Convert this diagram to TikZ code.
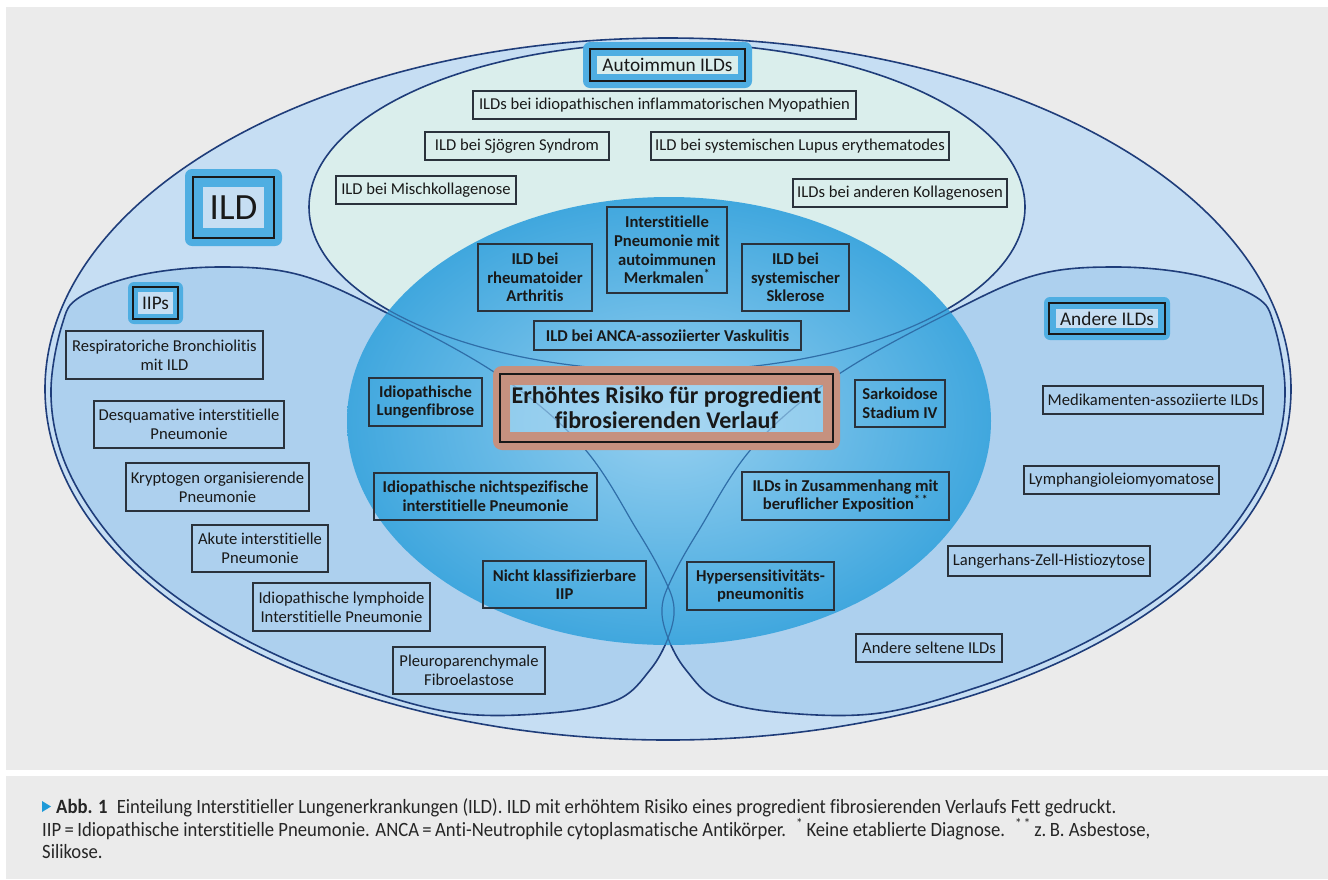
\documentclass[tikz,border=0pt]{standalone}
\usepackage{fontspec}
\setmainfont{Carlito}[Ligatures={NoCommon,NoContextual}]
\newfontfamily\capfont{Carlito}[FakeStretch=0.92, Ligatures={NoCommon,NoContextual}]
\usetikzlibrary{calc}

\definecolor{panelgray}{HTML}{EBEBEB}
\definecolor{ildfill}{HTML}{C6DEF3}
\definecolor{autofill}{HTML}{DAEEEC}
\definecolor{subfill}{HTML}{ADD0EE}
\definecolor{rimline}{HTML}{1F3D7A}
\definecolor{coreline}{HTML}{2F6EA8}
\definecolor{coreinner}{HTML}{97D0F0}
\definecolor{coreouter}{HTML}{40A7DE}
\definecolor{haloblue}{HTML}{4FAEE2}
\definecolor{halosalmon}{HTML}{C6917F}
\definecolor{boxline}{HTML}{2A323C}
\definecolor{capblue}{HTML}{1E9AD8}
\definecolor{riskfill}{HTML}{B8DEF4}

\tikzset{
  rim/.style={draw=rimline, line width=1.6pt},
  entry/.style={draw=boxline, line width=1.5pt, inner sep=0pt, align=center,
    text=black!90, font=\fontsize{16.6}{19}\selectfont},
  keyentry/.style={entry, font=\bfseries\fontsize{16.6}{18.6}\selectfont},
  title/.style={draw=black!90, line width=2.4pt, inner sep=0pt, text=black!90,
    font=\fontsize{19.3}{22}\selectfont},
  caption/.style={anchor=base west, inner sep=0pt, text=black!85,
    font=\capfont\fontsize{20.3}{22}\selectfont},
  iipshape/.pic={
    \path[pic actions] plot[smooth cycle, tension=0.6] coordinates {
      (220,267) (300,275) (385,312) (500,376) (583,447) (637,530) (664,578)
      (674,608) (668,638) (650,670) (617,700) (550,713) (456,713) (358,687)
      (270,652) (195,610) (133,561) (88,506) (60,449) (51,389) (62,325)
      (80,297) (140,275)};
  }
}

\begin{document}
\begin{tikzpicture}[x=1pt, y=-1pt]
\useasboundingbox (0,0) rectangle (1328,879);
\fill[white] (0,0) rectangle (1328,879);
% panels
\fill[panelgray] (6,7) rectangle (1328,770);
\fill[panelgray] (6,776) rectangle (1328,879);

% outer ILD field
\filldraw[fill=ildfill, rim] (668,389) ellipse [x radius=623pt, y radius=351pt];
% autoimmune field
\filldraw[fill=autofill, rim] (667,207) ellipse [x radius=358pt, y radius=164pt];
% IIP field and the mirrored field of other ILDs
\pic[fill=subfill, rim] at (0,0) {iipshape};
\pic[fill=subfill, rim, xscale=-1] at (1336,0) {iipshape};

% core: increased risk of progressive fibrosis
\shade[inner color=coreinner, outer color=coreouter]
  (669,421) ellipse [x radius=322pt, y radius=224pt];
\begin{scope}
  \clip (669,421) ellipse [x radius=322pt, y radius=224pt];
  \draw[coreline, line width=1.2pt] (667,207) ellipse [x radius=358pt, y radius=164pt];
  \pic[draw=coreline, line width=1.2pt] at (0,0) {iipshape};
  \pic[draw=coreline, line width=1.2pt, xscale=-1] at (1336,0) {iipshape};
\end{scope}

% headline labels with halo
\fill[haloblue, rounded corners=7pt] (185,169) rectangle (282,246);
\fill[ildfill] (203,187) rectangle (264,228);
\node[title, minimum width=81, minimum height=61, font=\fontsize{37}{40}\selectfont]
  (ild) at (233.5,207.5) {ILD};

\fill[haloblue, rounded corners=7pt] (583,42) rectangle (752,88);
\fill[autofill] (597,56) rectangle (738,74);
\node[title, minimum width=155, minimum height=32] (auto) at (667.5,65) {Autoimmun ILDs};

\fill[haloblue, rounded corners=6pt] (128,282) rectangle (183,324);
\fill[subfill!70!white] (138,292) rectangle (173,314);
\node[title, minimum width=45, minimum height=32] (iips) at (155.5,303) {IIPs};

\fill[haloblue, rounded corners=6pt] (1044,297) rectangle (1170,340);
\fill[subfill!70!white] (1056,309) rectangle (1158,328);
\node[title, minimum width=116, minimum height=31] (andere) at (1107,318.5) {Andere ILDs};

\fill[halosalmon, even odd rule] [rounded corners=9pt] (493,366) rectangle (840,450)
  [sharp corners] (510,385) rectangle (823,432);
\fill[riskfill, fill opacity=0.5] (510,385) rectangle (823,432);
\node[title, minimum width=333, minimum height=68, align=center,
  font=\bfseries\fontsize{24}{25}\selectfont] (risk) at (666.5,408)
  {Erhöhtes Risiko für progredient\\fibrosierenden Verlauf};

% autoimmune entries
\node[entry, minimum width=383, minimum height=28] (a1) at (664.5,105)
  {ILDs bei idiopathischen inflammatorischen Myopathien};
\node[entry, minimum width=184, minimum height=28] (a2) at (517,146) {ILD bei Sjögren Syndrom};
\node[entry, minimum width=298, minimum height=28] (a3) at (800,146)
  {ILD bei systemischen Lupus erythematodes};
\node[entry, minimum width=180, minimum height=28] (a4) at (426,190) {ILD bei Mischkollagenose};
\node[entry, minimum width=214, minimum height=28] (a5) at (900,193) {ILDs bei anderen Kollagenosen};

% entries with increased risk
\node[keyentry, minimum width=114, minimum height=67] (b1) at (535,277.5)
  {ILD bei\\rheumatoider\\Arthritis};
\node[keyentry, minimum width=120, minimum height=86] (b2) at (667,250)
  {Interstitielle\\Pneumonie mit\\autoimmunen\\Merkmalen\textsuperscript{*}};
\node[keyentry, minimum width=107, minimum height=67] (b3) at (795.5,277.5)
  {ILD bei\\systemischer\\Sklerose};
\node[keyentry, minimum width=267, minimum height=29] (b4) at (667.5,335.5)
  {ILD bei ANCA-assoziierter Vaskulitis};
\node[keyentry, minimum width=113, minimum height=48] (b5) at (425.5,402)
  {Idiopathische\\Lungenfibrose};
\node[keyentry, minimum width=223, minimum height=47] (b6) at (485.5,496.5)
  {Idiopathische nichtspezifische\\interstitielle Pneumonie};
\node[keyentry, minimum width=163, minimum height=47] (b7) at (564.5,584.5)
  {Nicht klassifizierbare\\IIP};
\node[keyentry, minimum width=90, minimum height=47] (b8) at (900,403.5)
  {Sarkoidose\\Stadium IV};
\node[keyentry, minimum width=207, minimum height=48] (b9) at (845.5,496)
  {ILDs in Zusammenhang mit\\beruflicher Exposition\textsuperscript{*\,*}};
\node[keyentry, minimum width=147, minimum height=48] (b10) at (760.5,586)
  {Hypersensitivitäts-\\pneumonitis};

% idiopathic interstitial pneumonias
\node[entry, minimum width=197, minimum height=48] (c1) at (164.5,355)
  {Respiratoriche Bronchiolitis\\mit ILD};
\node[entry, minimum width=190, minimum height=47] (c2) at (189,424.5)
  {Desquamative interstitielle\\Pneumonie};
\node[entry, minimum width=183, minimum height=48] (c3) at (217.5,487)
  {Kryptogen organisierende\\Pneumonie};
\node[entry, minimum width=136, minimum height=47] (c4) at (260,548.5)
  {Akute interstitielle\\Pneumonie};
\node[entry, minimum width=177, minimum height=48] (c5) at (341.5,607)
  {Idiopathische lymphoide\\Interstitielle Pneumonie};
\node[entry, minimum width=152, minimum height=47] (c6) at (469,670.5)
  {Pleuroparenchymale\\Fibroelastose};

% other ILDs
\node[entry, minimum width=220, minimum height=28] (d1) at (1153,400) {Medikamenten-assoziierte ILDs};
\node[entry, minimum width=195, minimum height=28] (d2) at (1121.5,480) {Lymphangioleiomyomatose};
\node[entry, minimum width=202, minimum height=30] (d3) at (1049,561) {Langerhans-Zell-Histiozytose};
\node[entry, minimum width=146, minimum height=28] (d4) at (929,648) {Andere seltene ILDs};

% caption
\fill[capblue] (42,801) -- (51,806.5) -- (42,812) -- cycle;
\node[caption] (cap1) at (56,813)
  {\textbf{Abb. 1}\hspace{0.45em}Einteilung Interstitieller Lungenerkrankungen (ILD). ILD mit erhöhtem Risiko eines progredient fibrosierenden Verlaufs Fett gedruckt.};
\node[caption] (cap2) at (42,836)
  {IIP\,=\,Idiopathische interstitielle Pneumonie. ANCA\,=\,Anti-Neutrophile cytoplasmatische Antikörper. \ \textsuperscript{*}\,Keine etablierte Diagnose. \ \textsuperscript{*\,*}\,z.\,B. Asbestose,};
\node[caption] (cap3) at (42,858) {Silikose.};
\end{tikzpicture}
\end{document}
